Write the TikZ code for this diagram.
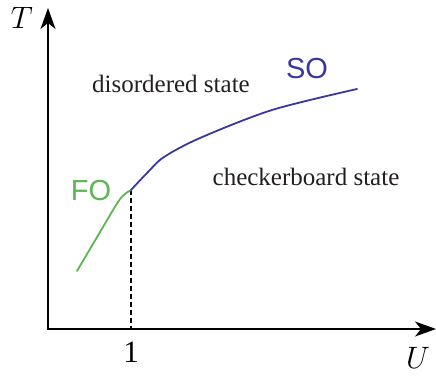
\RequirePackage{fix-cm}
\documentclass[tikz,border=0pt]{standalone}
\usepackage{fontspec}
\setmainfont{Liberation Serif}
\newfontfamily\labsans{Liberation Sans}
\usetikzlibrary{arrows.meta}
\definecolor{foGreen}{RGB}{92,182,84}
\definecolor{soBlue}{RGB}{58,56,160}
\definecolor{txtDark}{RGB}{35,31,32}
\tikzset{
  axisline/.style={line width=1.8pt, -{Stealth[length=21pt,width=15pt,inset=6pt]}},
  curveline/.style={line width=1.8pt, line cap=round, line join=round},
  mathlab/.style={font=\fontsize{31}{34}\selectfont, inner sep=0pt},
  ticklab/.style={font=\fontsize{31}{34}\selectfont, inner sep=0pt},
  statelab/.style={font=\fontsize{25}{28}\selectfont, text=txtDark, inner sep=0pt, anchor=base},
  phaselab/.style={font=\labsans\fontsize{29}{32}\selectfont, inner sep=0pt},
}
\begin{document}
\begin{tikzpicture}[x=1pt,y=-1pt]
\useasboundingbox (0,0) rectangle (436,377);
\coordinate (O) at (48,329);
\coordinate (Ttip) at (48,8);
\coordinate (Utip) at (436,329);
\coordinate (crit) at (131,190);
\coordinate (critfoot) at (131,329);
\coordinate (fostart) at (77,271);
\coordinate (fobend) at (116,205);
\coordinate (soend) at (357,89);
\draw[axisline] (O) -- (Ttip);
\draw[axisline] ([xshift=-1pt]O) -- (Utip);
\draw[line width=1.6pt, dash pattern=on 5pt off 3pt] (crit) -- (critfoot);
\draw[curveline, foGreen] (fostart) -- (fobend) .. controls (121,197) and (125,193) .. (crit);
\draw[curveline, soBlue] plot[smooth, tension=0.5] coordinates {(131,190) (148,172) (164,157) (200,138) (272,110) (357,89)};
\node[mathlab] (T) at (22,18) {$T$};
\node[mathlab] (U) at (418,358) {$U$};
\node[ticklab] (one) at (131,352) {1};
\node[phaselab, text=foGreen] (FO) at (91,191) {FO};
\node[phaselab, text=soBlue] (SO) at (307,69) {SO};
\node[statelab] (dis) at (171,93) {disordered state};
\node[statelab] (chk) at (306,185) {checkerboard state};
\end{tikzpicture}
\end{document}
